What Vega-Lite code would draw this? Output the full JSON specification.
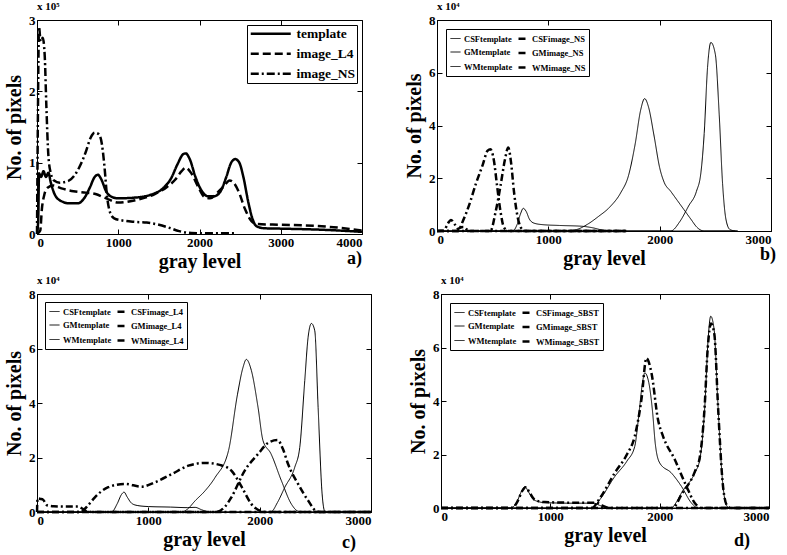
{
  "$schema": "https://vega.github.io/schema/vega-lite/v6.json",
  "padding": {"left": 4, "top": 0, "right": 0, "bottom": 0},
  "background": "white",
  "resolve": {"scale": {"strokeDash": "independent", "strokeWidth": "independent"}, "legend": {"strokeDash": "independent", "strokeWidth": "independent"}},
  "config": {
    "font": "Liberation Serif",
    "view": {"stroke": "black", "strokeWidth": 1},
    "axis": {
      "grid": false,
      "labelFont": "Liberation Serif",
      "labelFontWeight": "bold",
      "labelFontSize": 13,
      "labelColor": "black",
      "titleFont": "Liberation Serif",
      "titleFontWeight": "bold",
      "titleFontSize": 20,
      "titleColor": "black",
      "domainColor": "black",
      "tickColor": "black",
      "tickSize": -5,
      "labelPadding": 7,
      "format": "d"
    },
    "legend": {
      "labelFont": "Liberation Serif",
      "labelFontWeight": "bold",
      "labelColor": "black",
      "strokeColor": "black",
      "fillColor": "white",
      "symbolType": "stroke",
      "symbolFillColor": "transparent",
      "title": null
    },
    "title": {"font": "Liberation Serif", "fontWeight": "bold", "color": "black", "fontSize": 11, "anchor": "start", "frame": "group", "offset": 2},
    "text": {"font": "Liberation Serif", "fontWeight": "bold", "fontSize": 18, "color": "black"},
    "line": {"color": "black", "interpolate": "monotone"}
  },
  "datasets": {
    "a": [
      {"series":"template","gray":0,"pixels":0},{"series":"template","gray":15,"pixels":20000},{"series":"template","gray":25,"pixels":85000},{"series":"template","gray":50,"pixels":80000},{"series":"template","gray":80,"pixels":88000},{"series":"template","gray":110,"pixels":80000},{"series":"template","gray":140,"pixels":86000},{"series":"template","gray":170,"pixels":72000},{"series":"template","gray":220,"pixels":55000},{"series":"template","gray":300,"pixels":46000},{"series":"template","gray":400,"pixels":43000},{"series":"template","gray":500,"pixels":43000},{"series":"template","gray":580,"pixels":50000},{"series":"template","gray":650,"pixels":65000},{"series":"template","gray":710,"pixels":80000},{"series":"template","gray":750,"pixels":83000},{"series":"template","gray":790,"pixels":77000},{"series":"template","gray":850,"pixels":60000},{"series":"template","gray":920,"pixels":52000},{"series":"template","gray":1000,"pixels":50000},{"series":"template","gray":1200,"pixels":51000},{"series":"template","gray":1400,"pixels":55000},{"series":"template","gray":1550,"pixels":64000},{"series":"template","gray":1650,"pixels":78000},{"series":"template","gray":1730,"pixels":98000},{"series":"template","gray":1800,"pixels":112000},{"series":"template","gray":1830,"pixels":113000},{"series":"template","gray":1880,"pixels":105000},{"series":"template","gray":1950,"pixels":80000},{"series":"template","gray":2030,"pixels":60000},{"series":"template","gray":2100,"pixels":53000},{"series":"template","gray":2180,"pixels":53000},{"series":"template","gray":2260,"pixels":60000},{"series":"template","gray":2330,"pixels":80000},{"series":"template","gray":2390,"pixels":100000},{"series":"template","gray":2440,"pixels":105000},{"series":"template","gray":2490,"pixels":100000},{"series":"template","gray":2540,"pixels":80000},{"series":"template","gray":2600,"pixels":45000},{"series":"template","gray":2650,"pixels":22000},{"series":"template","gray":2700,"pixels":11000},{"series":"template","gray":2800,"pixels":8000},{"series":"template","gray":3000,"pixels":7500},{"series":"template","gray":3500,"pixels":6000},{"series":"template","gray":4000,"pixels":3000},
      {"series":"image_L4","gray":0,"pixels":0},{"series":"image_L4","gray":40,"pixels":5000},{"series":"image_L4","gray":60,"pixels":35000},{"series":"image_L4","gray":90,"pixels":55000},{"series":"image_L4","gray":130,"pixels":65000},{"series":"image_L4","gray":200,"pixels":68000},{"series":"image_L4","gray":300,"pixels":64000},{"series":"image_L4","gray":450,"pixels":60000},{"series":"image_L4","gray":600,"pixels":58000},{"series":"image_L4","gray":720,"pixels":56000},{"series":"image_L4","gray":850,"pixels":50000},{"series":"image_L4","gray":1000,"pixels":44000},{"series":"image_L4","gray":1150,"pixels":46000},{"series":"image_L4","gray":1300,"pixels":50000},{"series":"image_L4","gray":1450,"pixels":56000},{"series":"image_L4","gray":1600,"pixels":66000},{"series":"image_L4","gray":1700,"pixels":76000},{"series":"image_L4","gray":1780,"pixels":88000},{"series":"image_L4","gray":1830,"pixels":93000},{"series":"image_L4","gray":1900,"pixels":85000},{"series":"image_L4","gray":1980,"pixels":67000},{"series":"image_L4","gray":2060,"pixels":52000},{"series":"image_L4","gray":2130,"pixels":50000},{"series":"image_L4","gray":2220,"pixels":58000},{"series":"image_L4","gray":2300,"pixels":67000},{"series":"image_L4","gray":2370,"pixels":75000},{"series":"image_L4","gray":2420,"pixels":72000},{"series":"image_L4","gray":2480,"pixels":60000},{"series":"image_L4","gray":2560,"pixels":35000},{"series":"image_L4","gray":2640,"pixels":18000},{"series":"image_L4","gray":2700,"pixels":14000},{"series":"image_L4","gray":3000,"pixels":13000},{"series":"image_L4","gray":3300,"pixels":12000},{"series":"image_L4","gray":3600,"pixels":10000},{"series":"image_L4","gray":4000,"pixels":5000},
      {"series":"image_NS","gray":0,"pixels":0},{"series":"image_NS","gray":10,"pixels":150000},{"series":"image_NS","gray":25,"pixels":290000},{"series":"image_NS","gray":45,"pixels":270000},{"series":"image_NS","gray":70,"pixels":275000},{"series":"image_NS","gray":95,"pixels":250000},{"series":"image_NS","gray":115,"pixels":180000},{"series":"image_NS","gray":140,"pixels":110000},{"series":"image_NS","gray":170,"pixels":85000},{"series":"image_NS","gray":210,"pixels":75000},{"series":"image_NS","gray":280,"pixels":72000},{"series":"image_NS","gray":380,"pixels":74000},{"series":"image_NS","gray":460,"pixels":82000},{"series":"image_NS","gray":540,"pixels":98000},{"series":"image_NS","gray":600,"pixels":115000},{"series":"image_NS","gray":660,"pixels":135000},{"series":"image_NS","gray":710,"pixels":142000},{"series":"image_NS","gray":760,"pixels":140000},{"series":"image_NS","gray":800,"pixels":125000},{"series":"image_NS","gray":830,"pixels":95000},{"series":"image_NS","gray":860,"pixels":55000},{"series":"image_NS","gray":900,"pixels":30000},{"series":"image_NS","gray":950,"pixels":22000},{"series":"image_NS","gray":1050,"pixels":19000},{"series":"image_NS","gray":1200,"pixels":17000},{"series":"image_NS","gray":1350,"pixels":16000},{"series":"image_NS","gray":1500,"pixels":13000},{"series":"image_NS","gray":1620,"pixels":9000},{"series":"image_NS","gray":1750,"pixels":4000},{"series":"image_NS","gray":1900,"pixels":1500},{"series":"image_NS","gray":2100,"pixels":1000},{"series":"image_NS","gray":2450,"pixels":1000}
    ],
    "b": [
      {"series":"CSFtemplate","gray":0,"pixels":0},{"series":"CSFtemplate","gray":680,"pixels":0},{"series":"CSFtemplate","gray":720,"pixels":2500},{"series":"CSFtemplate","gray":750,"pixels":6500},{"series":"CSFtemplate","gray":775,"pixels":8600},{"series":"CSFtemplate","gray":800,"pixels":7500},{"series":"CSFtemplate","gray":830,"pixels":4500},{"series":"CSFtemplate","gray":870,"pixels":3000},{"series":"CSFtemplate","gray":950,"pixels":2400},{"series":"CSFtemplate","gray":1100,"pixels":2100},{"series":"CSFtemplate","gray":1300,"pixels":1800},{"series":"CSFtemplate","gray":1400,"pixels":1200},{"series":"CSFtemplate","gray":1480,"pixels":400},{"series":"CSFtemplate","gray":1550,"pixels":0},{"series":"CSFtemplate","gray":2700,"pixels":0},
      {"series":"GMtemplate","gray":0,"pixels":0},{"series":"GMtemplate","gray":1150,"pixels":0},{"series":"GMtemplate","gray":1250,"pixels":500},{"series":"GMtemplate","gray":1350,"pixels":2500},{"series":"GMtemplate","gray":1450,"pixels":5500},{"series":"GMtemplate","gray":1550,"pixels":9000},{"series":"GMtemplate","gray":1650,"pixels":14500},{"series":"GMtemplate","gray":1720,"pixels":21000},{"series":"GMtemplate","gray":1780,"pixels":33000},{"series":"GMtemplate","gray":1830,"pixels":46000},{"series":"GMtemplate","gray":1865,"pixels":50200},{"series":"GMtemplate","gray":1900,"pixels":47000},{"series":"GMtemplate","gray":1950,"pixels":36000},{"series":"GMtemplate","gray":2000,"pixels":24000},{"series":"GMtemplate","gray":2040,"pixels":18500},{"series":"GMtemplate","gray":2100,"pixels":15000},{"series":"GMtemplate","gray":2160,"pixels":11500},{"series":"GMtemplate","gray":2220,"pixels":8000},{"series":"GMtemplate","gray":2280,"pixels":4500},{"series":"GMtemplate","gray":2340,"pixels":1200},{"series":"GMtemplate","gray":2400,"pixels":0},{"series":"GMtemplate","gray":2700,"pixels":0},
      {"series":"WMtemplate","gray":0,"pixels":0},{"series":"WMtemplate","gray":2100,"pixels":0},{"series":"WMtemplate","gray":2180,"pixels":3500},{"series":"WMtemplate","gray":2260,"pixels":9500},{"series":"WMtemplate","gray":2330,"pixels":15000},{"series":"WMtemplate","gray":2370,"pixels":22000},{"series":"WMtemplate","gray":2400,"pixels":37000},{"series":"WMtemplate","gray":2430,"pixels":62000},{"series":"WMtemplate","gray":2460,"pixels":71500},{"series":"WMtemplate","gray":2500,"pixels":67000},{"series":"WMtemplate","gray":2535,"pixels":44000},{"series":"WMtemplate","gray":2565,"pixels":18000},{"series":"WMtemplate","gray":2595,"pixels":4500},{"series":"WMtemplate","gray":2630,"pixels":600},{"series":"WMtemplate","gray":2680,"pixels":0},
      {"series":"CSFimage_NS","gray":0,"pixels":0},{"series":"CSFimage_NS","gray":60,"pixels":200},{"series":"CSFimage_NS","gray":100,"pixels":3000},{"series":"CSFimage_NS","gray":125,"pixels":4200},{"series":"CSFimage_NS","gray":160,"pixels":2500},{"series":"CSFimage_NS","gray":190,"pixels":800},{"series":"CSFimage_NS","gray":215,"pixels":1400},{"series":"CSFimage_NS","gray":240,"pixels":1500},{"series":"CSFimage_NS","gray":270,"pixels":500},{"series":"CSFimage_NS","gray":300,"pixels":0},{"series":"CSFimage_NS","gray":1700,"pixels":0},
      {"series":"GMimage_NS","gray":0,"pixels":0},{"series":"GMimage_NS","gray":190,"pixels":0},{"series":"GMimage_NS","gray":230,"pixels":3500},{"series":"GMimage_NS","gray":290,"pixels":10000},{"series":"GMimage_NS","gray":350,"pixels":18000},{"series":"GMimage_NS","gray":410,"pixels":25000},{"series":"GMimage_NS","gray":455,"pixels":30500},{"series":"GMimage_NS","gray":480,"pixels":31000},{"series":"GMimage_NS","gray":510,"pixels":27000},{"series":"GMimage_NS","gray":540,"pixels":17000},{"series":"GMimage_NS","gray":570,"pixels":7500},{"series":"GMimage_NS","gray":600,"pixels":1500},{"series":"GMimage_NS","gray":640,"pixels":0},{"series":"GMimage_NS","gray":1700,"pixels":0},
      {"series":"WMimage_NS","gray":0,"pixels":0},{"series":"WMimage_NS","gray":480,"pixels":0},{"series":"WMimage_NS","gray":525,"pixels":7000},{"series":"WMimage_NS","gray":570,"pixels":17000},{"series":"WMimage_NS","gray":610,"pixels":27000},{"series":"WMimage_NS","gray":640,"pixels":31700},{"series":"WMimage_NS","gray":665,"pixels":26000},{"series":"WMimage_NS","gray":692,"pixels":14700},{"series":"WMimage_NS","gray":722,"pixels":5800},{"series":"WMimage_NS","gray":752,"pixels":1400},{"series":"WMimage_NS","gray":790,"pixels":0},{"series":"WMimage_NS","gray":1700,"pixels":0}
    ],
    "c": [
      {"series":"CSFtemplate","gray":0,"pixels":0},{"series":"CSFtemplate","gray":670,"pixels":0},{"series":"CSFtemplate","gray":720,"pixels":3000},{"series":"CSFtemplate","gray":760,"pixels":6500},{"series":"CSFtemplate","gray":782,"pixels":7300},{"series":"CSFtemplate","gray":810,"pixels":5500},{"series":"CSFtemplate","gray":850,"pixels":3200},{"series":"CSFtemplate","gray":900,"pixels":2400},{"series":"CSFtemplate","gray":1000,"pixels":2000},{"series":"CSFtemplate","gray":1200,"pixels":1800},{"series":"CSFtemplate","gray":1350,"pixels":1600},{"series":"CSFtemplate","gray":1420,"pixels":1700},{"series":"CSFtemplate","gray":1480,"pixels":800},{"series":"CSFtemplate","gray":1550,"pixels":0},{"series":"CSFtemplate","gray":3000,"pixels":0},
      {"series":"GMtemplate","gray":0,"pixels":0},{"series":"GMtemplate","gray":1300,"pixels":0},{"series":"GMtemplate","gray":1350,"pixels":1000},{"series":"GMtemplate","gray":1420,"pixels":4100},{"series":"GMtemplate","gray":1510,"pixels":7800},{"series":"GMtemplate","gray":1600,"pixels":12700},{"series":"GMtemplate","gray":1720,"pixels":22500},{"series":"GMtemplate","gray":1800,"pixels":43000},{"series":"GMtemplate","gray":1850,"pixels":53000},{"series":"GMtemplate","gray":1880,"pixels":56000},{"series":"GMtemplate","gray":1925,"pixels":52000},{"series":"GMtemplate","gray":1985,"pixels":38500},{"series":"GMtemplate","gray":2030,"pixels":26200},{"series":"GMtemplate","gray":2100,"pixels":21500},{"series":"GMtemplate","gray":2195,"pixels":11500},{"series":"GMtemplate","gray":2285,"pixels":2900},{"series":"GMtemplate","gray":2345,"pixels":300},{"series":"GMtemplate","gray":2400,"pixels":0},{"series":"GMtemplate","gray":3000,"pixels":0},
      {"series":"WMtemplate","gray":0,"pixels":0},{"series":"WMtemplate","gray":2100,"pixels":0},{"series":"WMtemplate","gray":2160,"pixels":3500},{"series":"WMtemplate","gray":2225,"pixels":9000},{"series":"WMtemplate","gray":2315,"pixels":16400},{"series":"WMtemplate","gray":2360,"pixels":23700},{"series":"WMtemplate","gray":2405,"pixels":48200},{"series":"WMtemplate","gray":2435,"pixels":64100},{"series":"WMtemplate","gray":2465,"pixels":69200},{"series":"WMtemplate","gray":2495,"pixels":66500},{"series":"WMtemplate","gray":2525,"pixels":38400},{"series":"WMtemplate","gray":2561,"pixels":6600},{"series":"WMtemplate","gray":2585,"pixels":300},{"series":"WMtemplate","gray":2620,"pixels":0},{"series":"WMtemplate","gray":3000,"pixels":0},
      {"series":"CSFimage_L4","gray":0,"pixels":0},{"series":"CSFimage_L4","gray":5,"pixels":5000},{"series":"CSFimage_L4","gray":30,"pixels":4800},{"series":"CSFimage_L4","gray":55,"pixels":4500},{"series":"CSFimage_L4","gray":90,"pixels":2500},{"series":"CSFimage_L4","gray":150,"pixels":2100},{"series":"CSFimage_L4","gray":250,"pixels":2000},{"series":"CSFimage_L4","gray":370,"pixels":2000},{"series":"CSFimage_L4","gray":410,"pixels":1200},{"series":"CSFimage_L4","gray":450,"pixels":200},{"series":"CSFimage_L4","gray":500,"pixels":0},{"series":"CSFimage_L4","gray":3000,"pixels":0},
      {"series":"GMimage_L4","gray":0,"pixels":0},{"series":"GMimage_L4","gray":380,"pixels":0},{"series":"GMimage_L4","gray":400,"pixels":200},{"series":"GMimage_L4","gray":460,"pixels":2500},{"series":"GMimage_L4","gray":520,"pixels":5400},{"series":"GMimage_L4","gray":640,"pixels":9100},{"series":"GMimage_L4","gray":790,"pixels":10300},{"series":"GMimage_L4","gray":940,"pixels":9300},{"series":"GMimage_L4","gray":1060,"pixels":10900},{"series":"GMimage_L4","gray":1210,"pixels":13900},{"series":"GMimage_L4","gray":1360,"pixels":17000},{"series":"GMimage_L4","gray":1510,"pixels":18000},{"series":"GMimage_L4","gray":1650,"pixels":17200},{"series":"GMimage_L4","gray":1750,"pixels":15000},{"series":"GMimage_L4","gray":1840,"pixels":9100},{"series":"GMimage_L4","gray":1926,"pixels":2900},{"series":"GMimage_L4","gray":2015,"pixels":300},{"series":"GMimage_L4","gray":2060,"pixels":0},{"series":"GMimage_L4","gray":3000,"pixels":0},
      {"series":"WMimage_L4","gray":0,"pixels":0},{"series":"WMimage_L4","gray":1600,"pixels":0},{"series":"WMimage_L4","gray":1630,"pixels":200},{"series":"WMimage_L4","gray":1690,"pixels":2000},{"series":"WMimage_L4","gray":1746,"pixels":5400},{"series":"WMimage_L4","gray":1866,"pixels":15200},{"series":"WMimage_L4","gray":1986,"pixels":21300},{"series":"WMimage_L4","gray":2080,"pixels":25500},{"series":"WMimage_L4","gray":2160,"pixels":26400},{"series":"WMimage_L4","gray":2210,"pixels":23000},{"series":"WMimage_L4","gray":2255,"pixels":17600},{"series":"WMimage_L4","gray":2345,"pixels":10300},{"series":"WMimage_L4","gray":2435,"pixels":4200},{"series":"WMimage_L4","gray":2510,"pixels":300},{"series":"WMimage_L4","gray":2560,"pixels":0},{"series":"WMimage_L4","gray":3000,"pixels":0}
    ],
    "d": [
      {"series":"CSFtemplate","gray":0,"pixels":0},{"series":"CSFtemplate","gray":640,"pixels":0},{"series":"CSFtemplate","gray":690,"pixels":2000},{"series":"CSFtemplate","gray":740,"pixels":6500},{"series":"CSFtemplate","gray":768,"pixels":8000},{"series":"CSFtemplate","gray":800,"pixels":6000},{"series":"CSFtemplate","gray":850,"pixels":3000},{"series":"CSFtemplate","gray":950,"pixels":2000},{"series":"CSFtemplate","gray":1200,"pixels":1800},{"series":"CSFtemplate","gray":1400,"pixels":1800},{"series":"CSFtemplate","gray":1450,"pixels":1000},{"series":"CSFtemplate","gray":1520,"pixels":0},{"series":"CSFtemplate","gray":3000,"pixels":0},
      {"series":"GMtemplate","gray":0,"pixels":0},{"series":"GMtemplate","gray":1380,"pixels":0},{"series":"GMtemplate","gray":1450,"pixels":3000},{"series":"GMtemplate","gray":1590,"pixels":11800},{"series":"GMtemplate","gray":1700,"pixels":17500},{"series":"GMtemplate","gray":1772,"pixels":23000},{"series":"GMtemplate","gray":1810,"pixels":35000},{"series":"GMtemplate","gray":1840,"pixels":46000},{"series":"GMtemplate","gray":1864,"pixels":50500},{"series":"GMtemplate","gray":1900,"pixels":47000},{"series":"GMtemplate","gray":1935,"pixels":36000},{"series":"GMtemplate","gray":1960,"pixels":24000},{"series":"GMtemplate","gray":2001,"pixels":16800},{"series":"GMtemplate","gray":2107,"pixels":13100},{"series":"GMtemplate","gray":2199,"pixels":8100},{"series":"GMtemplate","gray":2290,"pixels":1900},{"series":"GMtemplate","gray":2350,"pixels":0},{"series":"GMtemplate","gray":3000,"pixels":0},
      {"series":"WMtemplate","gray":0,"pixels":0},{"series":"WMtemplate","gray":2107,"pixels":0},{"series":"WMtemplate","gray":2150,"pixels":2000},{"series":"WMtemplate","gray":2199,"pixels":5600},{"series":"WMtemplate","gray":2321,"pixels":13100},{"series":"WMtemplate","gray":2367,"pixels":18100},{"series":"WMtemplate","gray":2413,"pixels":38000},{"series":"WMtemplate","gray":2443,"pixels":62900},{"series":"WMtemplate","gray":2467,"pixels":71700},{"series":"WMtemplate","gray":2498,"pixels":66700},{"series":"WMtemplate","gray":2534,"pixels":38000},{"series":"WMtemplate","gray":2574,"pixels":10600},{"series":"WMtemplate","gray":2611,"pixels":1000},{"series":"WMtemplate","gray":2640,"pixels":0},{"series":"WMtemplate","gray":3000,"pixels":0},
      {"series":"CSFimage_SBST","gray":0,"pixels":0},{"series":"CSFimage_SBST","gray":650,"pixels":0},{"series":"CSFimage_SBST","gray":700,"pixels":2500},{"series":"CSFimage_SBST","gray":745,"pixels":6500},{"series":"CSFimage_SBST","gray":775,"pixels":7800},{"series":"CSFimage_SBST","gray":810,"pixels":5800},{"series":"CSFimage_SBST","gray":860,"pixels":3000},{"series":"CSFimage_SBST","gray":950,"pixels":2200},{"series":"CSFimage_SBST","gray":1200,"pixels":2000},{"series":"CSFimage_SBST","gray":1420,"pixels":2000},{"series":"CSFimage_SBST","gray":1470,"pixels":1000},{"series":"CSFimage_SBST","gray":1540,"pixels":0},{"series":"CSFimage_SBST","gray":3000,"pixels":0},
      {"series":"GMimage_SBST","gray":0,"pixels":0},{"series":"GMimage_SBST","gray":1380,"pixels":0},{"series":"GMimage_SBST","gray":1450,"pixels":3500},{"series":"GMimage_SBST","gray":1589,"pixels":13100},{"series":"GMimage_SBST","gray":1700,"pixels":20000},{"series":"GMimage_SBST","gray":1772,"pixels":26800},{"series":"GMimage_SBST","gray":1833,"pixels":40500},{"series":"GMimage_SBST","gray":1879,"pixels":56000},{"series":"GMimage_SBST","gray":1925,"pixels":50500},{"series":"GMimage_SBST","gray":1985,"pixels":33000},{"series":"GMimage_SBST","gray":2031,"pixels":26800},{"series":"GMimage_SBST","gray":2138,"pixels":18100},{"series":"GMimage_SBST","gray":2245,"pixels":8100},{"series":"GMimage_SBST","gray":2321,"pixels":1900},{"series":"GMimage_SBST","gray":2380,"pixels":0},{"series":"GMimage_SBST","gray":3000,"pixels":0},
      {"series":"WMimage_SBST","gray":0,"pixels":0},{"series":"WMimage_SBST","gray":2120,"pixels":0},{"series":"WMimage_SBST","gray":2199,"pixels":5000},{"series":"WMimage_SBST","gray":2321,"pixels":13500},{"series":"WMimage_SBST","gray":2367,"pixels":19000},{"series":"WMimage_SBST","gray":2410,"pixels":37000},{"series":"WMimage_SBST","gray":2440,"pixels":60000},{"series":"WMimage_SBST","gray":2470,"pixels":69000},{"series":"WMimage_SBST","gray":2500,"pixels":65000},{"series":"WMimage_SBST","gray":2535,"pixels":37000},{"series":"WMimage_SBST","gray":2575,"pixels":10000},{"series":"WMimage_SBST","gray":2615,"pixels":1000},{"series":"WMimage_SBST","gray":2650,"pixels":0},{"series":"WMimage_SBST","gray":3000,"pixels":0}
    ]
  },
  "vconcat": [
    {
      "spacing": 36,
      "resolve": {"scale": {"strokeDash": "independent", "strokeWidth": "independent"}, "legend": {"strokeDash": "independent", "strokeWidth": "independent"}},
      "hconcat": [
        {
          "width": 325,
          "height": 214,
          "title": "x 10⁵",
          "data": {"name": "a"},
          "layer": [
            {
              "mark": {"type": "line", "strokeWidth": 2.5},
              "encoding": {
                "x": {"field": "gray", "type": "quantitative", "scale": {"domain": [0, 4000], "nice": false}, "axis": {"orient": "bottom", "values": [0, 1000, 2000, 3000, 4000], "title": "gray level", "titlePadding": 2}},
                "y": {"field": "pixels", "type": "quantitative", "scale": {"domain": [0, 300000], "nice": false}, "axis": {"orient": "left", "values": [0, 100000, 200000, 300000], "labelExpr": "datum.value / 100000", "title": "No. of pixels", "titlePadding": 4}},
                "strokeDash": {
                  "field": "series", "type": "nominal",
                  "scale": {"domain": ["template", "image_L4", "image_NS"], "range": [[1, 0], [8, 4], [8, 3, 2, 3]]},
                  "legend": {"orient": "top-right", "offset": 5, "symbolType": "M-1,0H7", "symbolSize": 100, "symbolStrokeWidth": 2.5, "labelFontSize": 13.5, "padding": 2, "rowPadding": 5, "labelOffset": 34}
                }
              }
            },
            {
              "data": {"values": [{"label": "a)"}]},
              "mark": {"type": "text", "align": "right", "baseline": "bottom", "dy": 34},
              "encoding": {
                "text": {"field": "label"},
                "x": {"datum": 4000, "type": "quantitative", "axis": {"orient": "top", "values": [0, 1000, 2000, 3000, 4000], "labels": false, "domain": false, "title": null}},
                "y": {"datum": 0, "type": "quantitative", "axis": {"orient": "right", "values": [0, 100000, 200000, 300000], "labels": false, "domain": false, "title": null}}
              }
            }
          ]
        },
        {
          "width": 334,
          "height": 211,
          "title": "x 10⁴",
          "data": {"name": "b"},
          "layer": [
            {
              "mark": {"type": "line"},
              "encoding": {
                "x": {"field": "gray", "type": "quantitative", "scale": {"domain": [0, 3000], "nice": false}, "axis": {"orient": "bottom", "values": [0, 1000, 2000, 3000], "title": "gray level", "titlePadding": 2}},
                "y": {"field": "pixels", "type": "quantitative", "scale": {"domain": [0, 80000], "nice": false}, "axis": {"orient": "left", "values": [0, 20000, 40000, 60000, 80000], "labelExpr": "datum.value / 10000", "title": "No. of pixels", "titlePadding": 4}},
                "strokeDash": {
                  "field": "series", "type": "nominal",
                  "scale": {"domain": ["CSFtemplate", "GMtemplate", "WMtemplate", "CSFimage_NS", "GMimage_NS", "WMimage_NS"], "range": [[1, 0], [1, 0], [1, 0], [7, 3, 2, 3], [7, 3, 2, 3], [7, 3, 2, 3]]},
                  "legend": {"orient": "top-left", "offset": 9, "columns": 2, "symbolSize": 100, "labelFontSize": 8.5, "padding": 3, "rowPadding": 2.5, "columnPadding": 0, "labelOffset": 2}
                },
                "strokeWidth": {
                  "field": "series", "type": "nominal",
                  "scale": {"type": "ordinal", "domain": ["CSFtemplate", "GMtemplate", "WMtemplate", "CSFimage_NS", "GMimage_NS", "WMimage_NS"], "range": [1, 1, 1, 2.5, 2.5, 2.5]},
                  "legend": {"orient": "top-left", "offset": 9, "columns": 2, "symbolSize": 100, "labelFontSize": 8.5, "padding": 3, "rowPadding": 2.5, "columnPadding": 0, "labelOffset": 2}
                }
              }
            },
            {
              "data": {"values": [{"label": "b)"}]},
              "mark": {"type": "text", "align": "right", "baseline": "bottom", "dy": 33, "dx": 5},
              "encoding": {
                "text": {"field": "label"},
                "x": {"datum": 3000, "type": "quantitative", "axis": {"orient": "top", "values": [0, 1000, 2000, 3000], "labels": false, "domain": false, "title": null}},
                "y": {"datum": 0, "type": "quantitative", "axis": {"orient": "right", "values": [0, 20000, 40000, 60000, 80000], "labels": false, "domain": false, "title": null}}
              }
            }
          ]
        }
      ]
    },
    {
      "spacing": 31,
      "resolve": {"scale": {"strokeDash": "independent", "strokeWidth": "independent"}, "legend": {"strokeDash": "independent", "strokeWidth": "independent"}},
      "hconcat": [
        {
          "width": 334,
          "height": 218,
          "title": "x 10⁴",
          "data": {"name": "c"},
          "layer": [
            {
              "mark": {"type": "line"},
              "encoding": {
                "x": {"field": "gray", "type": "quantitative", "scale": {"domain": [0, 3000], "nice": false}, "axis": {"orient": "bottom", "values": [0, 1000, 2000, 3000], "title": "gray level", "titlePadding": 2}},
                "y": {"field": "pixels", "type": "quantitative", "scale": {"domain": [0, 80000], "nice": false}, "axis": {"orient": "left", "values": [0, 20000, 40000, 60000, 80000], "labelExpr": "datum.value / 10000", "title": "No. of pixels", "titlePadding": 4}},
                "strokeDash": {
                  "field": "series", "type": "nominal",
                  "scale": {"domain": ["CSFtemplate", "GMtemplate", "WMtemplate", "CSFimage_L4", "GMimage_L4", "WMimage_L4"], "range": [[1, 0], [1, 0], [1, 0], [7, 3, 2, 3], [7, 3, 2, 3], [7, 3, 2, 3]]},
                  "legend": {"orient": "top-left", "offset": 8, "columns": 2, "symbolSize": 100, "labelFontSize": 8.5, "padding": 3, "rowPadding": 2.5, "columnPadding": 0, "labelOffset": 2}
                },
                "strokeWidth": {
                  "field": "series", "type": "nominal",
                  "scale": {"type": "ordinal", "domain": ["CSFtemplate", "GMtemplate", "WMtemplate", "CSFimage_L4", "GMimage_L4", "WMimage_L4"], "range": [1, 1, 1, 2.5, 2.5, 2.5]},
                  "legend": {"orient": "top-left", "offset": 8, "columns": 2, "symbolSize": 100, "labelFontSize": 8.5, "padding": 3, "rowPadding": 2.5, "columnPadding": 0, "labelOffset": 2}
                }
              }
            },
            {
              "data": {"values": [{"label": "c)"}]},
              "mark": {"type": "text", "align": "right", "baseline": "bottom", "dy": 40, "dx": -15},
              "encoding": {
                "text": {"field": "label"},
                "x": {"datum": 3000, "type": "quantitative", "axis": {"orient": "top", "values": [0, 1000, 2000, 3000], "labels": false, "domain": false, "title": null}},
                "y": {"datum": 0, "type": "quantitative", "axis": {"orient": "right", "values": [0, 20000, 40000, 60000, 80000], "labels": false, "domain": false, "title": null}}
              }
            }
          ]
        },
        {
          "width": 328,
          "height": 214,
          "title": "x 10⁴",
          "data": {"name": "d"},
          "layer": [
            {
              "mark": {"type": "line"},
              "encoding": {
                "x": {"field": "gray", "type": "quantitative", "scale": {"domain": [0, 3000], "nice": false}, "axis": {"orient": "bottom", "values": [0, 1000, 2000, 3000], "title": "gray level", "titlePadding": 2}},
                "y": {"field": "pixels", "type": "quantitative", "scale": {"domain": [0, 80000], "nice": false}, "axis": {"orient": "left", "values": [0, 20000, 40000, 60000, 80000], "labelExpr": "datum.value / 10000", "title": "No. of pixels", "titlePadding": 4}},
                "strokeDash": {
                  "field": "series", "type": "nominal",
                  "scale": {"domain": ["CSFtemplate", "GMtemplate", "WMtemplate", "CSFimage_SBST", "GMimage_SBST", "WMimage_SBST"], "range": [[1, 0], [1, 0], [1, 0], [7, 3, 2, 3], [7, 3, 2, 3], [7, 3, 2, 3]]},
                  "legend": {"orient": "top-left", "offset": 9, "columns": 2, "symbolSize": 100, "labelFontSize": 8.5, "padding": 3, "rowPadding": 2.5, "columnPadding": 0, "labelOffset": 2}
                },
                "strokeWidth": {
                  "field": "series", "type": "nominal",
                  "scale": {"type": "ordinal", "domain": ["CSFtemplate", "GMtemplate", "WMtemplate", "CSFimage_SBST", "GMimage_SBST", "WMimage_SBST"], "range": [1, 1, 1, 2.5, 2.5, 2.5]},
                  "legend": {"orient": "top-left", "offset": 9, "columns": 2, "symbolSize": 100, "labelFontSize": 8.5, "padding": 3, "rowPadding": 2.5, "columnPadding": 0, "labelOffset": 2}
                }
              }
            },
            {
              "data": {"values": [{"label": "d)"}]},
              "mark": {"type": "text", "align": "right", "baseline": "bottom", "dy": 42, "dx": -19},
              "encoding": {
                "text": {"field": "label"},
                "x": {"datum": 3000, "type": "quantitative", "axis": {"orient": "top", "values": [0, 1000, 2000, 3000], "labels": false, "domain": false, "title": null}},
                "y": {"datum": 0, "type": "quantitative", "axis": {"orient": "right", "values": [0, 20000, 40000, 60000, 80000], "labels": false, "domain": false, "title": null}}
              }
            }
          ]
        }
      ]
    }
  ],
  "spacing": 2
}
